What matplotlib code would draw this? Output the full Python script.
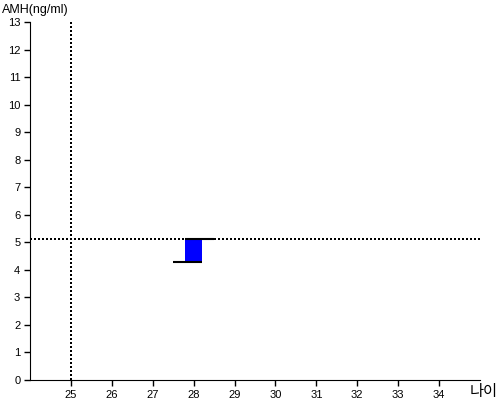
import matplotlib.pyplot as plt

plt.rcParams['font.family'] = ['Liberation Sans', 'Noto Sans CJK KR', 'DejaVu Sans']

# data
ages = [28]
amh_low = [4.28]
amh_high = [5.12]
ref_age = 25
ref_amh = 5.12
x_ticks = list(range(25, 35))
y_ticks = list(range(0, 14))

fig = plt.figure(figsize=(5, 4), dpi=100)
ax = fig.add_axes([0.06, 0.05, 0.90, 0.895])

# reference lines
ax.axvline(ref_age, color='black', linestyle=(0, (1, 1)), linewidth=1.44)
ax.axhline(ref_amh, color='black', linestyle=(0, (1, 1)), linewidth=1.44)

for a, lo, hi in zip(ages, amh_low, amh_high):
    ax.bar(a, hi - lo, bottom=lo, width=0.4, color='#0000ff', zorder=3)
    ax.hlines(hi, a - 0.2, a + 0.5, color='black', linewidth=1.5, zorder=4)
    ax.hlines(lo, a - 0.5, a + 0.2, color='black', linewidth=1.5, zorder=4)

ax.set_xlim(24, 35)
ax.set_ylim(0, 13)
ax.set_xticks(x_ticks)
ax.set_yticks(y_ticks)
ax.tick_params(labelsize=8, length=4, width=1, pad=3)
ax.spines['top'].set_visible(False)
ax.spines['right'].set_visible(False)

fig.text(0.004, 0.975, 'AMH(ng/ml)', fontsize=9, va='center', ha='left')
fig.text(0.995, 0.02, '나이', fontsize=11, va='center', ha='right')

fig.savefig('out.png', dpi=100)
